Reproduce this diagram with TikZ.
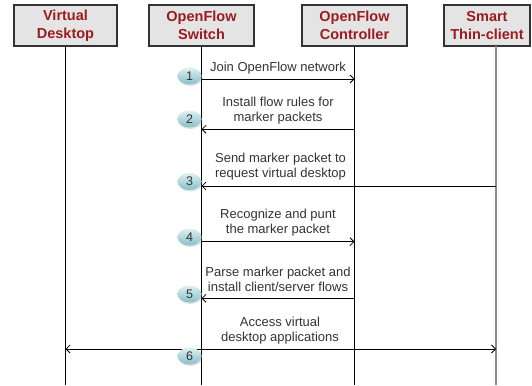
\documentclass[tikz,border=0pt]{standalone}
\usepackage{fontspec}
\setmainfont{Liberation Sans}
\usetikzlibrary{arrows.meta,shadows,shapes.geometric}
\definecolor{hdr}{HTML}{9B1C20}
\definecolor{boxfill}{HTML}{E4E4E4}
\definecolor{numtop}{HTML}{DDF1F3}
\definecolor{numbot}{HTML}{86BFC6}
\begin{document}
\begin{tikzpicture}[x=1pt,y=-1pt,
 hbox/.style={draw=black!80, line width=1.3pt, fill=boxfill, minimum height=41pt,
   text=hdr, font=\bfseries\fontsize{14.5}{18}\selectfont, align=center, inner sep=0pt,
   drop shadow={shadow xshift=1.2pt, shadow yshift=-1.2pt, opacity=0.35}},
 life/.style={line width=0.8pt},
 msg/.style={line width=0.8pt, -{Straight Barb[length=4pt,width=8pt]}},
 lbl/.style={font=\fontsize{13}{15}\selectfont, text=black!80, align=center, inner sep=0pt},
 num/.style={ellipse, minimum width=24pt, minimum height=17pt, inner sep=0pt,
   top color=numtop, bottom color=numbot, text=black!80, font=\fontsize{12.5}{12.5}\selectfont,
   drop shadow={shadow xshift=0.8pt, shadow yshift=-1.5pt, opacity=0.25}}
]
\useasboundingbox (0,0) rectangle (532,385);

% header boxes
\node[hbox, minimum width=103pt] (vd)  at (65.5,25.5)  {Virtual\\Desktop};
\node[hbox, minimum width=105pt] (sw)  at (201.5,25.5) {OpenFlow\\Switch};
\node[hbox, minimum width=105pt] (ctl) at (354.5,25.5) {OpenFlow\\Controller};
\node[hbox, minimum width=86pt]  (tc)  at (487,25.5)   {Smart\\Thin-client};

% lifelines
\coordinate (vdb) at (65.5,385);
\coordinate (swb) at (201.5,385);
\coordinate (ctlb) at (354.5,385);
\coordinate (tct) at (496,46.5);
\coordinate (tcb) at (496,385);
\draw[life] (vd.south) -- (vdb);
\draw[life] (sw.south) -- (swb);
\draw[life] (ctl.south) -- (ctlb);
\draw[line width=1.5pt, black!45] (tct) -- (tcb);

% message anchor points
\coordinate (s1) at (201.5,79);  \coordinate (c1) at (354.5,79);
\coordinate (s2) at (201.5,129.3); \coordinate (c2) at (354.5,129.3);
\coordinate (s3) at (201.5,186); \coordinate (t3) at (496,186);
\coordinate (s4) at (201.5,241.7); \coordinate (c4) at (354.5,241.7);
\coordinate (s5) at (201.5,298.3); \coordinate (c5) at (354.5,298.3);
\coordinate (v6) at (65.5,349); \coordinate (t6) at (496,349);

% messages
\draw[msg] (s1) -- (c1);
\draw[msg] (c2) -- (s2);
\draw[msg] (t3) -- (s3);
\draw[msg] (s4) -- (c4);
\draw[msg] (c5) -- (s5);
\draw[line width=0.8pt, {Straight Barb[length=4pt,width=8pt]}-{Straight Barb[length=4pt,width=8pt]}] (v6) -- (t6);

% labels
\node[lbl] (l1) at (278,68)    {Join OpenFlow network};
\node[lbl] (l2) at (278,110.5) {Install flow rules for\\marker packets};
\node[lbl] (l3) at (280.5,167) {Send marker packet to\\request virtual desktop};
\node[lbl] (l4) at (278,223)   {Recognize and punt\\the marker packet};
\node[lbl] (l5) at (278,279.5) {Parse marker packet and\\install client/server flows};
\node[lbl] (l6) at (280,330.5) {Access virtual\\desktop applications};

% step numbers
\node[num] (n1) at (189.5,76)  {1};
\node[num] (n2) at (189.5,119) {2};
\node[num] (n3) at (189.5,181.5) {3};
\node[num] (n4) at (189.5,237) {4};
\node[num] (n5) at (189.5,294) {5};
\node[num] (n6) at (189.5,356) {6};
\end{tikzpicture}
\end{document}
